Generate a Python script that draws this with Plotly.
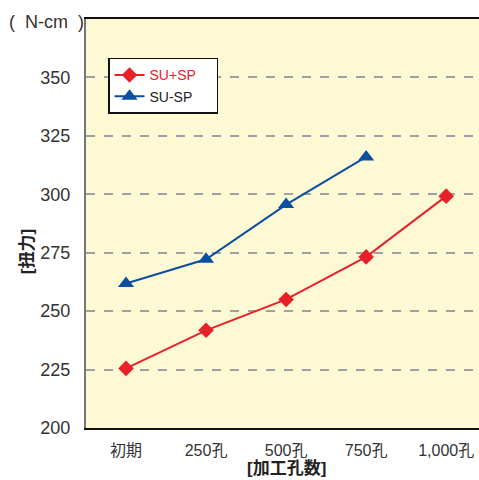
import plotly.graph_objects as go

categories = ["初期", "250孔", "500孔", "750孔", "1,000孔"]
su_plus_sp = [225.5, 241.8, 255.0, 273.2, 299.2]
su_minus_sp = [261.8, 272.2, 295.6, 316.0]
y_ticks = [200, 225, 250, 275, 300, 325, 350]

FONT = "Arial, 'Liberation Sans', 'Noto Sans CJK JP', sans-serif"
RED = "#E8202A"
BLUE = "#0B4EA2"
PAD = "\u00a0" * 4

fig = go.Figure()
fig.add_trace(go.Scatter(
    x=categories, y=su_plus_sp, mode="lines+markers",
    name="<span style='color:#E8202A'>SU+SP</span>" + PAD,
    line=dict(color=RED, width=2),
    marker=dict(symbol="diamond", size=12, color=RED),
))
fig.add_trace(go.Scatter(
    x=categories[:len(su_minus_sp)], y=su_minus_sp, mode="lines+markers",
    name="SU-SP" + PAD,
    line=dict(color=BLUE, width=2),
    marker=dict(symbol="triangle-up", size=14, color=BLUE),
))

fig.update_layout(
    width=479, height=480,
    margin=dict(l=86, r=0, t=19, b=52),
    paper_bgcolor="white",
    plot_bgcolor="#FEF9D5",
    font=dict(family=FONT, color="#333333"),
    showlegend=True,
    legend=dict(
        x=0.056, y=0.905, xanchor="left", yanchor="top",
        bgcolor="white", bordercolor="#111111", borderwidth=1.5,
        font=dict(size=14, color="#222222"),
        tracegroupgap=0, itemwidth=30,
    ),
    xaxis=dict(
        type="category", range=[-0.5, 4.41],
        showline=True, linecolor="#111111", linewidth=2, mirror=True,
        showgrid=False, ticks="", tickfont=dict(size=16, color="#333333"),
        ticklabelstandoff=7,
    ),
    yaxis=dict(
        range=[200, 375], tickvals=y_ticks,
        showline=True, linecolor="#777777", linewidth=2,
        showgrid=True, gridcolor="#A0A0A0", gridwidth=1.5, griddash="dash",
        zeroline=False, ticks="", tickfont=dict(size=18, color="#333333"),
        ticklabelstandoff=10,
    ),
    annotations=[
        dict(text="(\u00a0 N-cm \u00a0)", xref="paper", yref="paper", x=-0.2, y=0.993,
             xanchor="left", yanchor="middle", showarrow=False,
             font=dict(size=18, color="#333333")),
        dict(text="<b>[扭力]</b>", xref="paper", yref="paper", x=-0.15, y=0.43,
             xanchor="center", yanchor="middle", textangle=-90, showarrow=False,
             font=dict(size=17, color="#222222")),
        dict(text="<b>[加工孔数]</b>", xref="paper", yref="paper", x=0.511, y=-0.1,
             xanchor="center", yanchor="middle", showarrow=False,
             font=dict(size=17, color="#222222")),
    ],
)

fig.write_html(
    "out.html",
    config={"displayModeBar": False},
    post_script="document.body.style.margin='0';document.body.style.overflow='hidden';",
)
